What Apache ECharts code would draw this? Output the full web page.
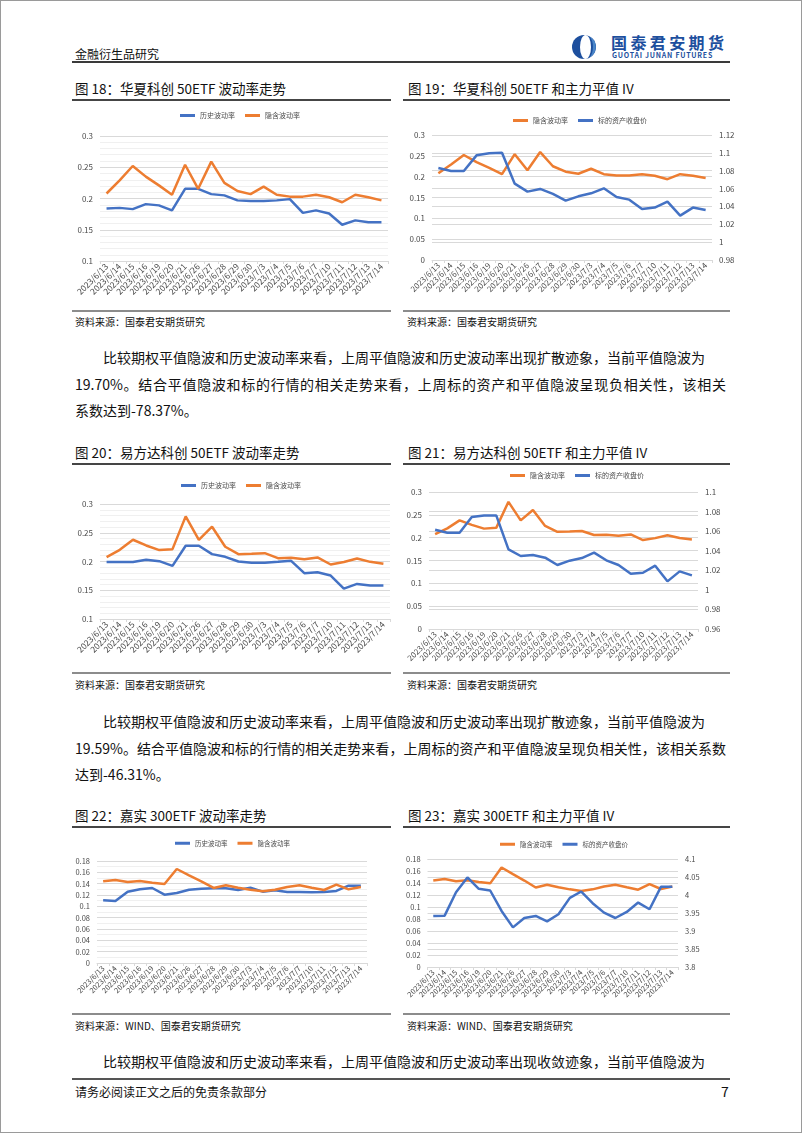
<!DOCTYPE html>
<html><head><meta charset="utf-8">
<script src="https://cdn.jsdelivr.net/npm/echarts@6/dist/echarts.min.js"></script>
<style>
html,body{margin:0;padding:0;background:#fff;}
#page{position:relative;width:802px;height:1134px;overflow:hidden;font-family:"Noto Sans CJK SC","Noto Sans",sans-serif;color:#111;background:#fff;}
.t{position:absolute;white-space:nowrap;}
.ln{position:absolute;z-index:5;}
.chart{position:absolute;}
.frame{position:absolute;left:0;top:0;width:800px;height:1131px;border:1px solid #9a9a9a;pointer-events:none;z-index:6;}
.jl{position:absolute;white-space:nowrap;text-align:justify;text-align-last:justify;}
</style></head>
<body>
<div id="page">
  <div class="frame"></div>
  <!-- header -->
  <div class="t" style="left:75px;top:45px;font-size:12px;line-height:18px;">金融衍生品研究</div>
  <svg style="position:absolute;left:570px;top:34px;" width="30" height="26" viewBox="0 0 30 26">
    <circle cx="14" cy="13" r="12" fill="#1d4f9e"/>
    <ellipse cx="15.5" cy="13" rx="5.5" ry="12" fill="#ffffff"/>
    <path d="M19 2.2 A12 12 0 0 1 19 23.8 A7 12 0 0 0 19 2.2 Z" fill="#4a86c8"/>
  </svg>
  <div class="t" style="left:611px;top:34px;font-size:16px;line-height:17px;font-weight:bold;color:#1d4f9e;letter-spacing:3.4px;">国泰君安期货</div>
  <div class="t" style="left:612px;top:51px;font-size:7px;line-height:8px;font-weight:bold;color:#1d4f9e;letter-spacing:0.75px;">GUOTAI JUNAN FUTURES</div>
  <div class="ln" style="left:72px;top:61px;width:658px;height:2px;background:#3a3a3a;"></div>

  <!-- row 1 -->
  <div class="t" style="left:75px;top:78px;font-size:13.5px;line-height:20px;">图 18：华夏科创 50ETF 波动率走势</div>
  <div class="t" style="left:408px;top:78px;font-size:13.5px;line-height:20px;">图 19：华夏科创 50ETF 和主力平值 IV</div>
  <div class="ln" style="left:72px;top:99px;width:319px;height:2px;background:#454545;"></div>
  <div class="ln" style="left:403px;top:99px;width:327px;height:2px;background:#454545;"></div>
  <div id="c18" class="chart" style="left:72px;top:100px;width:320px;height:210px;"></div>
  <div id="c19" class="chart" style="left:403px;top:100px;width:335px;height:210px;"></div>
  <div class="ln" style="left:72px;top:310px;width:319px;height:2px;background:#8c8c8c;"></div>
  <div class="ln" style="left:403px;top:310px;width:327px;height:2px;background:#8c8c8c;"></div>
  <div class="t" style="left:75px;top:315px;font-size:10px;line-height:14px;">资料来源：国泰君安期货研究</div>
  <div class="t" style="left:407px;top:315px;font-size:10px;line-height:14px;">资料来源：国泰君安期货研究</div>

  <div class="t" style="left:103px;top:346px;font-size:14px;line-height:22px;">比较期权平值隐波和历史波动率来看，上周平值隐波和历史波动率出现扩散迹象，当前平值隐波为</div>
  <div class="jl" style="left:75px;top:373px;width:651px;font-size:14px;line-height:22px;">19.70%。结合平值隐波和标的行情的相关走势来看，上周标的资产和平值隐波呈现负相关性，该相关</div>
  <div class="t" style="left:75px;top:399px;font-size:14px;line-height:22px;">系数达到-78.37%。</div>

  <!-- row 2 -->
  <div class="t" style="left:75px;top:442px;font-size:13.5px;line-height:20px;">图 20：易方达科创 50ETF 波动率走势</div>
  <div class="t" style="left:408px;top:442px;font-size:13.5px;line-height:20px;">图 21：易方达科创 50ETF 和主力平值 IV</div>
  <div class="ln" style="left:72px;top:463px;width:319px;height:2px;background:#454545;"></div>
  <div class="ln" style="left:403px;top:463px;width:327px;height:2px;background:#454545;"></div>
  <div id="c20" class="chart" style="left:72px;top:465px;width:322px;height:208px;"></div>
  <div id="c21" class="chart" style="left:403px;top:465px;width:335px;height:208px;"></div>
  <div class="ln" style="left:72px;top:672px;width:319px;height:2px;background:#8c8c8c;"></div>
  <div class="ln" style="left:403px;top:672px;width:327px;height:2px;background:#8c8c8c;"></div>
  <div class="t" style="left:75px;top:678px;font-size:10px;line-height:14px;">资料来源：国泰君安期货研究</div>
  <div class="t" style="left:407px;top:678px;font-size:10px;line-height:14px;">资料来源：国泰君安期货研究</div>

  <div class="t" style="left:103px;top:710px;font-size:14px;line-height:22px;">比较期权平值隐波和历史波动率来看，上周平值隐波和历史波动率出现扩散迹象，当前平值隐波为</div>
  <div class="jl" style="left:75px;top:737px;width:651px;font-size:14px;line-height:22px;">19.59%。结合平值隐波和标的行情的相关走势来看，上周标的资产和平值隐波呈现负相关性，该相关系数</div>
  <div class="t" style="left:75px;top:763px;font-size:14px;line-height:22px;">达到-46.31%。</div>

  <!-- row 3 -->
  <div class="t" style="left:75px;top:805px;font-size:13.5px;line-height:20px;">图 22：嘉实 300ETF 波动率走势</div>
  <div class="t" style="left:408px;top:805px;font-size:13.5px;line-height:20px;">图 23：嘉实 300ETF 和主力平值 IV</div>
  <div class="ln" style="left:72px;top:826px;width:319px;height:2px;background:#454545;"></div>
  <div class="ln" style="left:403px;top:826px;width:327px;height:2px;background:#454545;"></div>
  <div id="c22" class="chart" style="left:72px;top:830px;width:320px;height:184px;"></div>
  <div id="c23" class="chart" style="left:403px;top:830px;width:335px;height:184px;"></div>
  <div class="ln" style="left:72px;top:1013px;width:319px;height:2px;background:#8c8c8c;"></div>
  <div class="ln" style="left:403px;top:1013px;width:327px;height:2px;background:#8c8c8c;"></div>
  <div class="t" style="left:75px;top:1019px;font-size:10px;line-height:14px;">资料来源：WIND、国泰君安期货研究</div>
  <div class="t" style="left:407px;top:1019px;font-size:10px;line-height:14px;">资料来源：WIND、国泰君安期货研究</div>

  <div class="t" style="left:103px;top:1050px;font-size:14px;line-height:22px;">比较期权平值隐波和历史波动率来看，上周平值隐波和历史波动率出现收敛迹象，当前平值隐波为</div>

  <!-- footer -->
  <div class="ln" style="left:72px;top:1078px;width:658px;height:2px;background:#555;"></div>
  <div class="t" style="left:75px;top:1083px;font-size:12px;line-height:18px;">请务必阅读正文之后的免责条款部分</div>
  <div class="t" style="left:721px;top:1081px;font-size:14px;line-height:20px;">7</div>
</div>

<script>
// ---------------- data ----------------
const categories = ['2023/6/13','2023/6/14','2023/6/15','2023/6/16','2023/6/19','2023/6/20','2023/6/21','2023/6/26','2023/6/27','2023/6/28','2023/6/29','2023/6/30','2023/7/3','2023/7/4','2023/7/5','2023/7/6','2023/7/7','2023/7/10','2023/7/11','2023/7/12','2023/7/13','2023/7/14'];

// 华夏科创50ETF
const hv18 = [0.184,0.185,0.183,0.191,0.189,0.181,0.2155,0.2155,0.207,0.205,0.197,0.196,0.196,0.197,0.199,0.177,0.181,0.176,0.158,0.165,0.162,0.162];
const iv18 = [0.208,0.229,0.252,0.235,0.221,0.206,0.254,0.2155,0.259,0.225,0.212,0.207,0.219,0.206,0.203,0.203,0.206,0.202,0.194,0.206,0.202,0.197];
const px19 = [1.083,1.0797,1.0797,1.0972,1.0995,1.1002,1.0655,1.0566,1.0596,1.054,1.0465,1.0513,1.0547,1.0603,1.0506,1.0476,1.0372,1.0387,1.0454,1.0297,1.0387,1.0361];

// 易方达科创50ETF
const hv20 = [0.199,0.199,0.199,0.203,0.2006,0.1924,0.2273,0.2273,0.2128,0.2081,0.2,0.1977,0.1977,0.1994,0.2012,0.1797,0.1814,0.1756,0.1529,0.161,0.1581,0.1581];
const iv20 = [0.2076,0.2203,0.2378,0.2279,0.2198,0.2215,0.2785,0.2378,0.2605,0.2256,0.2128,0.2134,0.2145,0.2058,0.2064,0.2041,0.207,0.1948,0.199,0.2052,0.1994,0.1959];
const px21 = [1.0615,1.0584,1.0584,1.0744,1.0761,1.0761,1.0414,1.0346,1.0356,1.0329,1.0254,1.0298,1.0325,1.038,1.0302,1.0254,1.0165,1.0175,1.0247,1.0087,1.0189,1.0148];

// 嘉实300ETF
const hv22 = [0.1106,0.1094,0.1259,0.13,0.1324,0.1206,0.1235,0.1294,0.1312,0.1318,0.1318,0.1288,0.1329,0.1259,0.1282,0.1253,0.1253,0.1247,0.1253,0.1271,0.1365,0.1365];
const iv22 = [0.1441,0.1465,0.1429,0.1447,0.1418,0.1394,0.1659,0.1547,0.1441,0.1324,0.1371,0.1329,0.1294,0.1265,0.1294,0.1341,0.1371,0.1329,0.1288,0.1382,0.13,0.1341];
const px23 = [3.9417,3.9426,4.0078,4.0488,4.0171,4.0125,3.9557,3.91,3.9361,3.9417,3.9268,3.9464,3.992,4.0097,3.9771,3.951,3.9361,3.9529,3.979,3.9603,4.0227,4.0227];

const nameHV = '历史波动率', nameIV = '隐含波动率', namePX = '标的资产收盘价';

// axis ranges [min, max, interval]
const axis18 = [0.1, 0.3, 0.05];
const axis19L = [0, 0.3, 0.05], axis19R = [0.98, 1.12, 0.02];
const axis20 = [0.1, 0.3, 0.05];
const axis21L = [0, 0.3, 0.05], axis21R = [0.96, 1.1, 0.02];
const axis22 = [0, 0.18, 0.02];
const axis23L = [0, 0.18, 0.02], axis23R = [3.8, 4.1, 0.05];

// ---------------- helpers ----------------
const FONT = '"Noto Sans CJK SC","Noto Sans",sans-serif';
const BLUE = '#4472C4', ORANGE = '#ED7D31';
const TXT = '#4a4a4a';

function xAx(fs) {
  return {type:'category', data:categories, boundaryGap:true,
    axisLine:{show:true, lineStyle:{color:'#d9d9d9', width:1}},
    axisTick:{show:true, length:3, lineStyle:{color:'#d9d9d9'}},
    axisLabel:{rotate:45, interval:0, fontSize:fs, color:TXT, margin:4, fontFamily:FONT},
    splitLine:{show:false}};
}
function yAx(r, fs, minor, pos) {
  return {type:'value', min:r[0], max:r[1], interval:r[2], position:pos||'left',
    axisLine:{show:false}, axisTick:{show:false},
    axisLabel:{fontSize:fs, color:TXT, margin:7, fontFamily:FONT},
    splitLine:{show:true, lineStyle:{color:'#d9d9d9', width:1}},
    minorTick:{show:false, splitNumber:minor||5},
    minorSplitLine:{show:!!minor, lineStyle:{color:'#f0f0f0', width:1}}};
}
function ser(name, data, color, yi) {
  return {name, type:'line', data, yAxisIndex:yi||0, symbol:'none', smooth:false,
    lineStyle:{color, width:2.5}, itemStyle:{color}, animation:false};
}
function leg(left, top, names, fs) {
  return {left, top, itemWidth:15, itemHeight:3, itemGap:10, icon:'rect', padding:0,
    textStyle:{fontSize:fs, color:TXT, fontFamily:FONT}, data:names};
}
function mk(id, opt) {
  const c = echarts.init(document.getElementById(id), null, {renderer:'canvas'});
  opt.animation = false;
  opt.textStyle = {fontFamily:FONT};
  c.setOption(opt);
}

// 图18
mk('c18', {
  grid:{left:28, right:4, top:36, bottom:49},
  legend: leg(108, 12, [nameHV, nameIV], 7),
  xAxis: xAx(8.5),
  yAxis: yAx(axis18, 8, 5),
  series:[ser(nameHV, hv18, BLUE), ser(nameIV, iv18, ORANGE)]
});
// 图19
mk('c19', {
  grid:{left:29, right:26, top:35, bottom:50},
  legend: leg(110, 17, [nameIV, namePX], 7),
  xAxis: xAx(8),
  yAxis: [yAx(axis19L, 8), yAx(axis19R, 8, 0, 'right')],
  series:[ser(nameIV, iv18, ORANGE), ser(namePX, px19, BLUE, 1)]
});
// 图20
mk('c20', {
  grid:{left:28, right:4, top:39, bottom:54},
  legend: leg(109, 17, [nameHV, nameIV], 7),
  xAxis: xAx(8.5),
  yAxis: yAx(axis20, 8, 5),
  series:[ser(nameHV, hv20, BLUE), ser(nameIV, iv20, ORANGE)]
});
// 图21
mk('c21', {
  grid:{left:26, right:40, top:27, bottom:44},
  legend: leg(107, 7, [nameIV, namePX], 7),
  xAxis: xAx(8),
  yAxis: [yAx(axis21L, 8), yAx(axis21R, 8, 0, 'right')],
  series:[ser(nameIV, iv20, ORANGE), ser(namePX, px21, BLUE, 1)]
});
// 图22
mk('c22', {
  grid:{left:25, right:25, top:31, bottom:51},
  legend: leg(103, 10, [nameHV, nameIV], 6.5),
  xAxis: xAx(7.5),
  yAxis: yAx(axis22, 7.5, 2),
  series:[ser(nameHV, hv22, BLUE), ser(nameIV, iv22, ORANGE)]
});
// 图23
mk('c23', {
  grid:{left:23, right:60, top:29, bottom:47},
  legend: leg(97, 11, [nameIV, namePX], 6.5),
  xAxis: xAx(7.5),
  yAxis: [yAx(axis23L, 7.5), yAx(axis23R, 7.5, 0, 'right')],
  series:[ser(nameIV, iv22, ORANGE), ser(namePX, px23, BLUE, 1)]
});
</script>
</body></html>
